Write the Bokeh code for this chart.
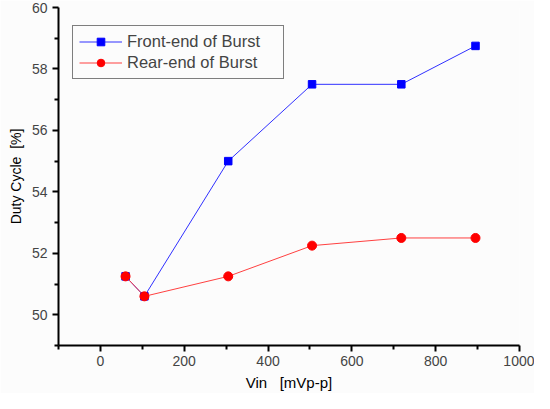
from bokeh.plotting import figure
from bokeh.models import Range1d, FixedTicker, Legend, LegendItem
from bokeh.embed import file_html
from bokeh.resources import INLINE

vin_front = [60, 105, 305, 505, 718, 895]
duty_front = [51.25, 50.6, 55.0, 57.5, 57.5, 58.75]
vin_rear = [60, 105, 305, 505, 718, 895]
duty_rear = [51.25, 50.6, 51.25, 52.25, 52.5, 52.5]
x_major = [0, 200, 400, 600, 800, 1000]
x_minor = [-100, 100, 300, 500, 700, 900]
y_major = [50, 52, 54, 56, 58, 60]
y_minor = [49, 51, 53, 55, 57, 59]

FONT = "Liberation Sans"
BG = "#fcfcfc"

p = figure(width=534, height=393, output_backend="svg", toolbar_location=None,
           x_range=Range1d(-100, 1000), y_range=Range1d(49, 60),
           min_border_left=58, min_border_right=15, min_border_top=7, min_border_bottom=48)
p.background_fill_color = BG
p.border_fill_color = BG
p.outline_line_color = None
p.grid.visible = False

fl = p.line(vin_front, duty_front, line_color="#3030ff", line_width=1)
fm = p.scatter(vin_front, duty_front, marker="square", size=7.5, fill_color="#0000ff", line_color="#0000ff")
rl = p.line(vin_rear, duty_rear, line_color="#ff4040", line_width=1)
rm = p.scatter(vin_rear, duty_rear, marker="circle", size=9, fill_color="#ff0000", line_color="#ff0000")

p.xaxis.ticker = FixedTicker(ticks=x_major, minor_ticks=x_minor)
p.yaxis.ticker = FixedTicker(ticks=y_major, minor_ticks=y_minor)
for ax in (p.xaxis[0], p.yaxis[0]):
    ax.axis_line_width = 2
    ax.axis_line_color = "black"
    ax.major_tick_line_width = 2
    ax.minor_tick_line_width = 2
    ax.major_tick_out = 6
    ax.major_tick_in = 0
    ax.minor_tick_out = 4
    ax.minor_tick_in = 0
    ax.major_label_text_font = FONT
    ax.major_label_text_font_size = "14px"
    ax.major_label_text_color = "#444444"
    ax.axis_label_text_font = FONT
    ax.axis_label_text_font_style = "normal"
    ax.axis_label_text_color = "black"
p.xaxis.axis_label = "Vin\u00a0\u00a0\u00a0[mVp-p]"
p.yaxis.axis_label = "Duty Cycle\u00a0\u00a0[%]"
p.xaxis.axis_label_text_font_size = "15px"
p.yaxis.axis_label_text_font_size = "14px"
p.xaxis.major_label_standoff = 4
p.xaxis.axis_label_standoff = 5
p.yaxis.major_label_standoff = 5

legend = Legend(items=[LegendItem(label="Front-end of Burst", renderers=[fl, fm]),
                       LegendItem(label="Rear-end of Burst", renderers=[rl, rm])],
                location=(14, 266))
legend.label_text_font = FONT
legend.label_text_font_size = "16.5px"
legend.border_line_color = "black"
legend.border_line_width = 1
legend.background_fill_color = BG
legend.background_fill_alpha = 1
legend.glyph_width = 43
legend.glyph_height = 19
legend.label_height = 19
legend.label_standoff = 5
legend.label_width = 150
legend.spacing = 2
legend.padding = 6
legend.margin = 0
p.add_layout(legend)

open("out.html", "w").write(file_html(p, INLINE))
